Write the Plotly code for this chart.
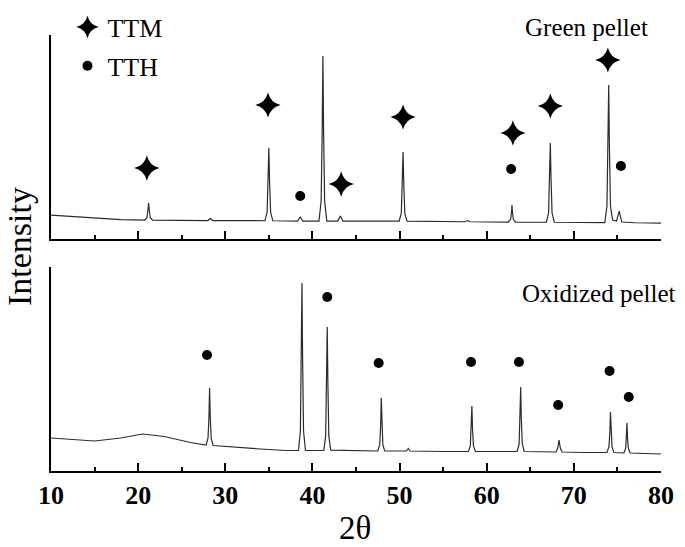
import plotly.graph_objects as go

# ---------------- data (intensity in a.u.) ----------------
green_2theta = [10, 12, 15, 18,
                20.75, 21.0, 21.12, 21.2, 21.28, 21.4, 21.65,
                24, 28.0, 28.3, 28.6, 32,
                34.55, 34.8, 34.92, 35.0, 35.08, 35.2, 35.45,
                38.3, 38.6, 38.9,
                40.75, 41.0, 41.12, 41.2, 41.28, 41.4, 41.65,
                42.9, 43.2, 43.5, 46,
                49.95, 50.2, 50.32, 50.4, 50.48, 50.6, 50.85,
                55, 57.5, 57.8, 58.1,
                62.5, 62.75, 62.85, 62.9, 62.95, 63.05, 63.3,
                66.85, 67.1, 67.22, 67.3, 67.38, 67.5, 67.75,
                71,
                73.55, 73.8, 73.92, 74.0, 74.08, 74.2, 74.45,
                74.9, 75.2, 75.5, 77, 80]
green_intensity = [24, 23, 21, 19.5,
                   19, 21, 28.5, 36, 28.5, 21, 19,
                   18.8, 18.5, 20.5, 18.5, 18.4,
                   18.3, 27, 58, 91, 58, 27, 18.3,
                   18, 22, 18,
                   18, 38, 108, 183, 108, 38, 18,
                   18, 23, 18, 18,
                   18, 26, 56, 87, 56, 26, 18,
                   17.5, 17.3, 18.5, 17.3,
                   17, 20, 27, 34, 27, 20, 17,
                   16.8, 26, 60, 96, 60, 26, 16.8,
                   16.6,
                   16.5, 33, 92, 154, 92, 33, 19,
                   18, 28, 17, 16.3, 16]

oxidized_2theta = [10, 13, 15, 18, 20.5, 23, 26,
                   27.8, 28.02, 28.13, 28.2, 28.27, 28.38, 28.6,
                   30, 34, 37,
                   38.4, 38.62, 38.73, 38.8, 38.87, 38.98, 39.2,
                   41.3, 41.52, 41.63, 41.7, 41.77, 41.88, 42.1,
                   45,
                   47.5, 47.72, 47.83, 47.9, 47.97, 48.08, 48.3,
                   50.8, 51.0, 51.2, 55,
                   57.9, 58.12, 58.23, 58.3, 58.37, 58.48, 58.7,
                   63.5, 63.72, 63.83, 63.9, 63.97, 64.08, 64.3,
                   67.95, 68.15, 68.3, 68.45, 68.65,
                   71,
                   73.8, 74.02, 74.13, 74.2, 74.27, 74.38, 74.6,
                   75.75, 75.95, 76.05, 76.1, 76.15, 76.25, 76.45,
                   78, 80]
oxidized_intensity = [33, 31.5, 30, 33, 37, 34.5, 28.5,
                      26, 33, 55, 83, 55, 33, 25.5,
                      24.5, 22, 20.5,
                      20.5, 40, 115, 188, 115, 40, 20.5,
                      20.5, 35, 90, 144, 90, 35, 20.8,
                      20.3,
                      20, 26, 45, 73, 45, 26, 20,
                      20, 22.5, 20, 19.5,
                      19.5, 25, 42, 65, 42, 25, 19.5,
                      19.5, 27, 52, 84, 52, 27, 19.5,
                      19, 23, 31, 23, 19,
                      18.5,
                      18.5, 24, 38, 59, 38, 24, 18.5,
                      18, 23, 34, 48, 34, 23, 18,
                      17.5, 17]

green_ttm_2theta = [21.0, 34.9, 41.3, 43.3, 50.4, 63.0, 67.3, 73.9]
green_ttm_level = [71, 134, 225, 55, 122, 106, 133, 179]
green_tth_2theta = [38.6, 62.8, 75.4]
green_tth_level = [43, 70, 73]

oxidized_tth_2theta = [27.9, 38.8, 41.7, 47.6, 58.2, 63.7, 68.2, 74.1, 76.3]
oxidized_tth_level = [116, 208, 174, 108, 109, 109, 66, 100, 74]

x_ticks = [10, 20, 30, 40, 50, 60, 70, 80]

# ---------------- figure ----------------
FONT = "Liberation Serif, Times New Roman, serif"
LINE_COLOR = "#2b2b2b"

fig = go.Figure()

fig.add_trace(go.Scatter(x=green_2theta, y=green_intensity, mode="lines",
                         line=dict(color=LINE_COLOR, width=1.2),
                         xaxis="x", yaxis="y", showlegend=False, hoverinfo="skip"))
fig.add_trace(go.Scatter(x=oxidized_2theta, y=oxidized_intensity, mode="lines",
                         line=dict(color=LINE_COLOR, width=1.2),
                         xaxis="x2", yaxis="y2", showlegend=False, hoverinfo="skip"))

fig.add_trace(go.Scatter(x=green_ttm_2theta, y=green_ttm_level, mode="markers",
                         marker=dict(symbol="star-diamond", size=18, color="black"),
                         name="TTM", legendgroup="a", cliponaxis=False,
                         xaxis="x", yaxis="y"))
fig.add_trace(go.Scatter(x=green_tth_2theta, y=green_tth_level, mode="markers",
                         marker=dict(symbol="circle", size=10, color="black"),
                         name="TTH", legendgroup="b", cliponaxis=False,
                         xaxis="x", yaxis="y"))
fig.add_trace(go.Scatter(x=oxidized_tth_2theta, y=oxidized_tth_level, mode="markers",
                         marker=dict(symbol="circle", size=10, color="black"),
                         name="TTH", legendgroup="b", showlegend=False, cliponaxis=False,
                         xaxis="x2", yaxis="y2"))

xaxis_common = dict(range=[10, 80], tickvals=x_ticks, ticks="inside", ticklen=8,
                    tickwidth=1.6, tickcolor="black", showline=True, linecolor="black",
                    linewidth=2, showgrid=False, zeroline=False,
                    minor=dict(dtick=5, tick0=10, ticks="inside", ticklen=4.5,
                               tickwidth=1.6, tickcolor="black", showgrid=False))
yaxis_common = dict(showline=True, linecolor="black", linewidth=2, showgrid=False,
                    zeroline=False, showticklabels=False, ticks="")

fig.update_layout(
    width=685, height=547,
    margin=dict(l=51, r=24, t=35, b=76, autoexpand=False),
    paper_bgcolor="white", plot_bgcolor="white",
    font=dict(family=FONT, color="black"),
    xaxis=dict(**xaxis_common, anchor="y", showticklabels=False),
    yaxis=dict(**yaxis_common, domain=[0.532, 1.0], range=[0, 204], anchor="x"),
    xaxis2=dict(**xaxis_common, anchor="y2", showticklabels=True,
                tickfont=dict(family=FONT, size=26, weight="bold", color="black")),
    yaxis2=dict(**yaxis_common, domain=[0.0, 0.468], range=[0, 204], anchor="x2"),
    legend=dict(x=0.027, y=1.072, xanchor="left", yanchor="top",
                font=dict(family=FONT, size=26, color="black"),
                bgcolor="rgba(0,0,0,0)", tracegroupgap=2, traceorder="grouped"),
    showlegend=True,
    annotations=[
        dict(text="Green pellet", xref="paper", yref="paper",
             x=(586 - 51) / 610, y=1 + (35 - 27) / 436, xanchor="center", yanchor="middle",
             showarrow=False, font=dict(family=FONT, size=25, color="black")),
        dict(text="Oxidized pellet", xref="paper", yref="paper",
             x=(598 - 51) / 610, y=(471 - 293) / 436, xanchor="center", yanchor="middle",
             showarrow=False, font=dict(family=FONT, size=25, color="black")),
        dict(text="Intensity", xref="paper", yref="paper", textangle=-90,
             x=(19 - 51) / 610, y=(471 - 247) / 436, xanchor="center", yanchor="middle",
             showarrow=False, font=dict(family=FONT, size=34, color="black")),
        dict(text="2θ", xref="paper", yref="paper",
             x=(355 - 51) / 610, y=(471 - 527.5) / 436, xanchor="center", yanchor="middle",
             showarrow=False, font=dict(family=FONT, size=33, color="black")),
    ],
)

fig.write_html("out.html", config={"displayModeBar": False},
               post_script="document.body.style.margin='0px';")
